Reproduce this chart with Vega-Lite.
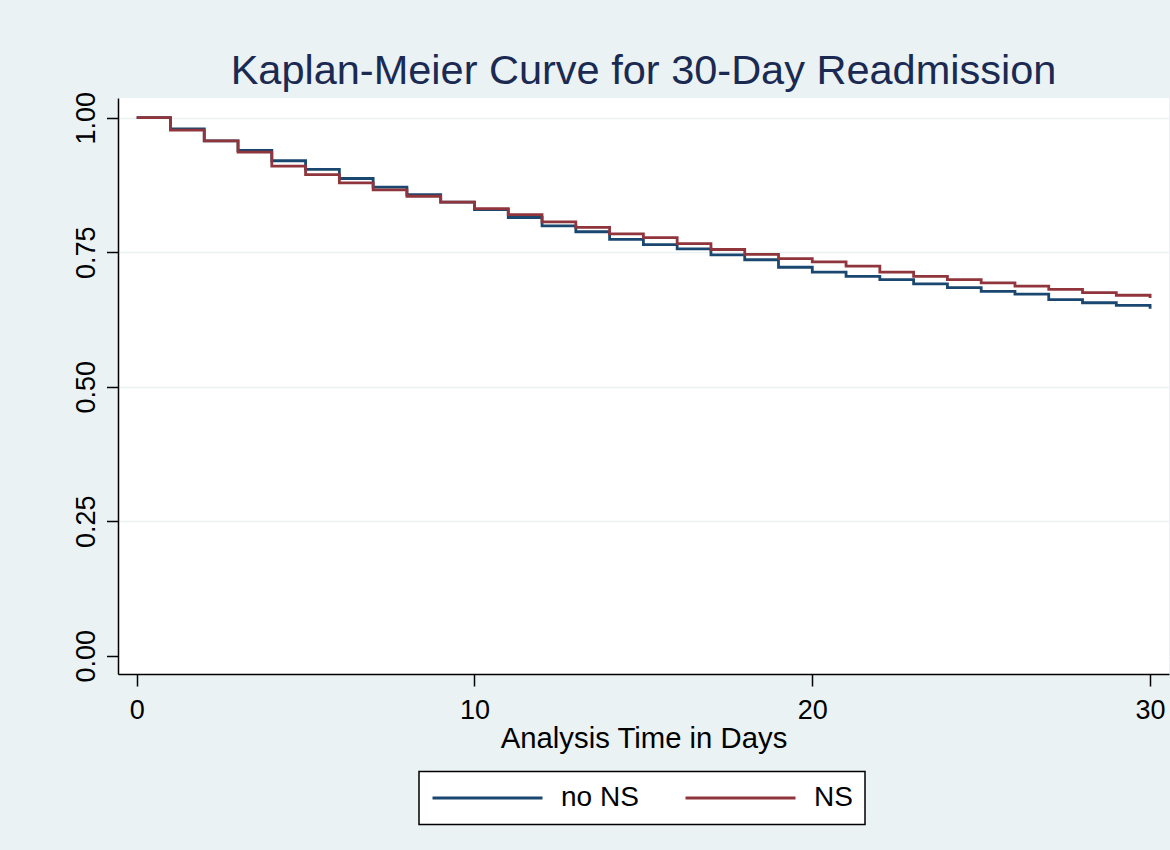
{
  "$schema": "https://vega.github.io/schema/vega-lite/v6.json",
  "autosize": {"type": "none"},
  "padding": {"left": 118, "top": 98, "right": 1, "bottom": 176},
  "width": 1051,
  "height": 576,
  "background": "#EAF2F3",
  "config": {
    "font": "Liberation Sans",
    "view": {"fill": "white", "stroke": null},
    "legend": {"strokeColor": "#000000", "strokeWidth": 1.5, "fillColor": "white", "padding": 12}
  },
  "title": {
    "text": "Kaplan-Meier Curve for 30-Day Readmission",
    "font": "Liberation Sans",
    "fontSize": 41.5,
    "fontWeight": "normal",
    "color": "#1A2A52",
    "anchor": "middle",
    "frame": "group",
    "baseline": "alphabetic",
    "offset": 8,
    "dy": 42
  },
  "data": {
    "values": [
      {"day": 0, "surv": 1.0, "group": "no NS"},
      {"day": 1, "surv": 0.979, "group": "no NS"},
      {"day": 2, "surv": 0.957, "group": "no NS"},
      {"day": 3, "surv": 0.939, "group": "no NS"},
      {"day": 4, "surv": 0.92, "group": "no NS"},
      {"day": 5, "surv": 0.904, "group": "no NS"},
      {"day": 6, "surv": 0.887, "group": "no NS"},
      {"day": 7, "surv": 0.871, "group": "no NS"},
      {"day": 8, "surv": 0.857, "group": "no NS"},
      {"day": 9, "surv": 0.843, "group": "no NS"},
      {"day": 10, "surv": 0.829, "group": "no NS"},
      {"day": 11, "surv": 0.8145, "group": "no NS"},
      {"day": 12, "surv": 0.799, "group": "no NS"},
      {"day": 13, "surv": 0.788, "group": "no NS"},
      {"day": 14, "surv": 0.774, "group": "no NS"},
      {"day": 15, "surv": 0.764, "group": "no NS"},
      {"day": 16, "surv": 0.756, "group": "no NS"},
      {"day": 17, "surv": 0.745, "group": "no NS"},
      {"day": 18, "surv": 0.736, "group": "no NS"},
      {"day": 19, "surv": 0.722, "group": "no NS"},
      {"day": 20, "surv": 0.713, "group": "no NS"},
      {"day": 21, "surv": 0.705, "group": "no NS"},
      {"day": 22, "surv": 0.699, "group": "no NS"},
      {"day": 23, "surv": 0.691, "group": "no NS"},
      {"day": 24, "surv": 0.684, "group": "no NS"},
      {"day": 25, "surv": 0.677, "group": "no NS"},
      {"day": 26, "surv": 0.672, "group": "no NS"},
      {"day": 27, "surv": 0.662, "group": "no NS"},
      {"day": 28, "surv": 0.656, "group": "no NS"},
      {"day": 29, "surv": 0.651, "group": "no NS"},
      {"day": 30, "surv": 0.645, "group": "no NS"},
      {"day": 0, "surv": 1.0, "group": "NS"},
      {"day": 1, "surv": 0.977, "group": "NS"},
      {"day": 2, "surv": 0.957, "group": "NS"},
      {"day": 3, "surv": 0.936, "group": "NS"},
      {"day": 4, "surv": 0.91, "group": "NS"},
      {"day": 5, "surv": 0.894, "group": "NS"},
      {"day": 6, "surv": 0.879, "group": "NS"},
      {"day": 7, "surv": 0.866, "group": "NS"},
      {"day": 8, "surv": 0.854, "group": "NS"},
      {"day": 9, "surv": 0.843, "group": "NS"},
      {"day": 10, "surv": 0.831, "group": "NS"},
      {"day": 11, "surv": 0.82, "group": "NS"},
      {"day": 12, "surv": 0.8065, "group": "NS"},
      {"day": 13, "surv": 0.796, "group": "NS"},
      {"day": 14, "surv": 0.784, "group": "NS"},
      {"day": 15, "surv": 0.777, "group": "NS"},
      {"day": 16, "surv": 0.766, "group": "NS"},
      {"day": 17, "surv": 0.755, "group": "NS"},
      {"day": 18, "surv": 0.746, "group": "NS"},
      {"day": 19, "surv": 0.738, "group": "NS"},
      {"day": 20, "surv": 0.732, "group": "NS"},
      {"day": 21, "surv": 0.724, "group": "NS"},
      {"day": 22, "surv": 0.713, "group": "NS"},
      {"day": 23, "surv": 0.705, "group": "NS"},
      {"day": 24, "surv": 0.699, "group": "NS"},
      {"day": 25, "surv": 0.693, "group": "NS"},
      {"day": 26, "surv": 0.687, "group": "NS"},
      {"day": 27, "surv": 0.681, "group": "NS"},
      {"day": 28, "surv": 0.675, "group": "NS"},
      {"day": 29, "surv": 0.67, "group": "NS"},
      {"day": 30, "surv": 0.665, "group": "NS"}
    ]
  },
  "mark": {"type": "line", "interpolate": "step-after", "strokeWidth": 2.8, "clip": false},
  "encoding": {
    "x": {
      "field": "day",
      "type": "quantitative",
      "scale": {"domain": [-0.553, 30.56], "nice": false, "zero": false},
      "axis": {
        "values": [0, 10, 20, 30],
        "format": "d",
        "grid": false,
        "title": "Analysis Time in Days",
        "titleFont": "Liberation Sans",
        "titleFontSize": 29.3,
        "titleFontWeight": "normal",
        "titleColor": "#000000",
        "titlePadding": 1,
        "labelFont": "Liberation Sans",
        "labelFontSize": 27,
        "labelColor": "#000000",
        "labelPadding": 11.7,
        "labelBaseline": "top",
        "labelFlush": false,
        "domainColor": "#000000",
        "domainWidth": 1.5,
        "tickColor": "#000000",
        "tickWidth": 1.5,
        "tickSize": 12
      }
    },
    "y": {
      "field": "surv",
      "type": "quantitative",
      "scale": {"domain": [-0.034, 1.0366], "nice": false, "zero": false},
      "axis": {
        "values": [0, 0.25, 0.5, 0.75, 1],
        "format": ".2f",
        "title": null,
        "grid": true,
        "gridColor": {"condition": {"test": "datum.value === 0", "value": "white"}, "value": "#EAF2F3"},
        "gridWidth": 1.5,
        "labelFont": "Liberation Sans",
        "labelFontSize": 27,
        "labelColor": "#000000",
        "labelAngle": 270,
        "labelAlign": "center",
        "labelBaseline": "alphabetic",
        "labelPadding": 12.5,
        "labelFlush": false,
        "domainColor": "#000000",
        "domainWidth": 1.5,
        "tickColor": "#000000",
        "tickWidth": 1.5,
        "tickSize": 11.5
      }
    },
    "color": {
      "field": "group",
      "type": "nominal",
      "scale": {"domain": ["no NS", "NS"], "range": ["#1A476F", "#90353B"]},
      "legend": {
        "title": null,
        "orient": "none",
        "legendX": 301,
        "legendY": 673.5,
        "direction": "horizontal",
        "columns": 2,
        "symbolType": "stroke",
        "symbolSize": 12100,
        "symbolStrokeWidth": 2.8,
        "clipHeight": 29,
        "labelFont": "Liberation Sans",
        "labelFontSize": 28,
        "labelColor": "#000000",
        "labelOffset": 17,
        "columnPadding": 45
      }
    }
  }
}
